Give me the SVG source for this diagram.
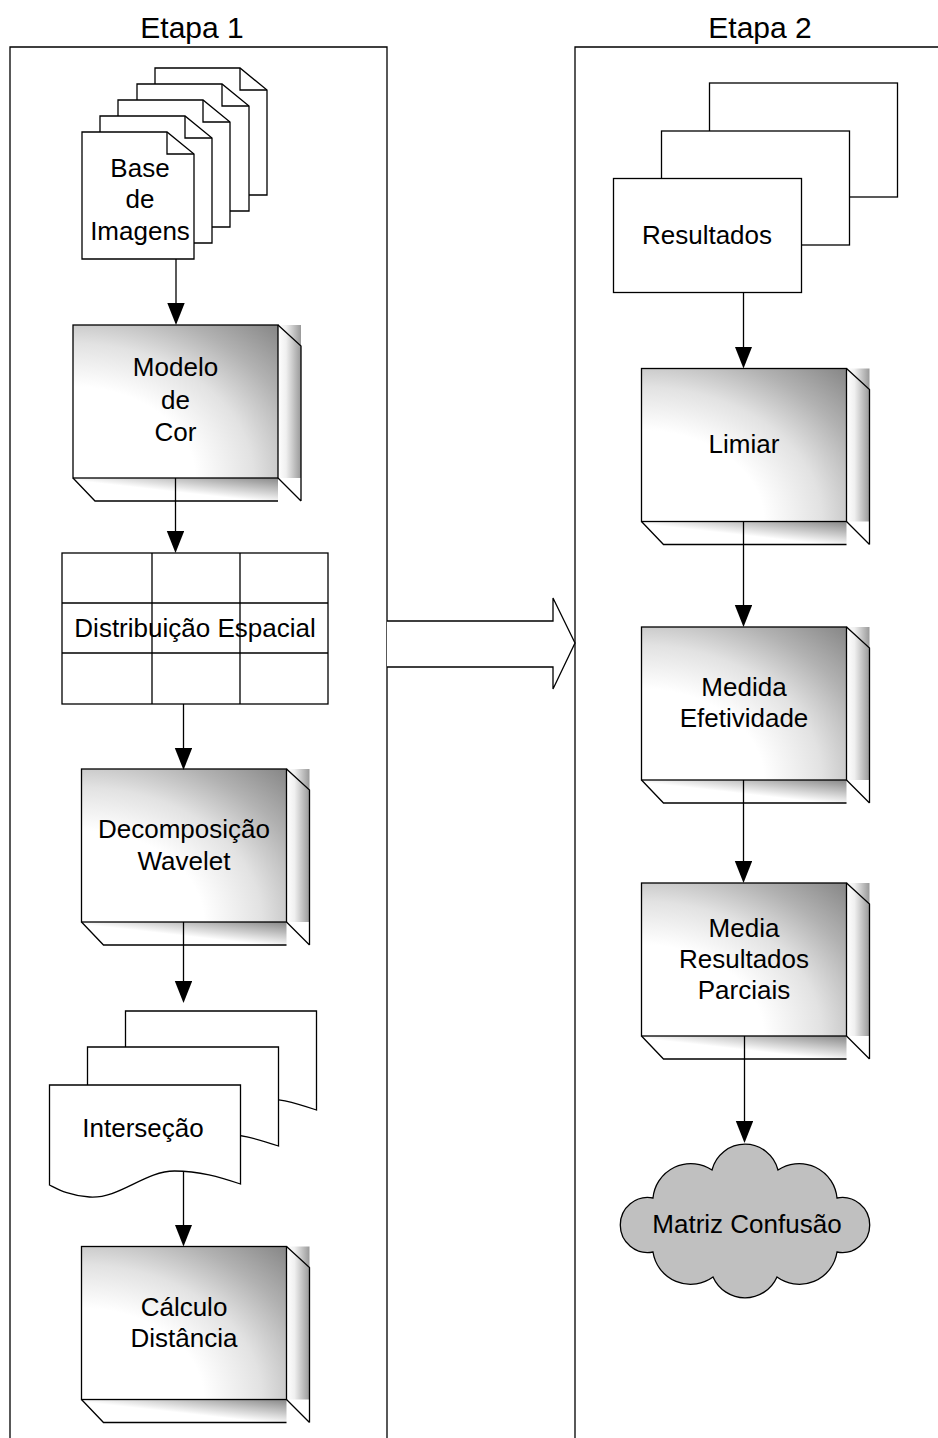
<svg xmlns="http://www.w3.org/2000/svg" width="938" height="1438" viewBox="0 0 938 1438">
<style>
.s{stroke:#000;stroke-width:1.3}
.nf{fill:none}
.t{font-family:"Liberation Sans",Arial,sans-serif;font-size:26px;text-anchor:middle;fill:#000}
.h{font-size:30px}
</style>
<defs>
<radialGradient id="gFront" cx="0" cy="1" r="1.42" fx="0" fy="1">
<stop offset="0" stop-color="#fff"/>
<stop offset="0.42" stop-color="#fff"/>
<stop offset="0.62" stop-color="#e2e2e2"/>
<stop offset="0.8" stop-color="#b2b2b2"/>
<stop offset="1" stop-color="#858585"/>
</radialGradient>
<linearGradient id="gSide" x1="0" y1="0" x2="1" y2="0">
<stop offset="0" stop-color="#fff"/>
<stop offset="0.35" stop-color="#f0f0f0"/>
<stop offset="1" stop-color="#999"/>
</linearGradient>
<linearGradient id="gBottom" x1="0" y1="1" x2="1" y2="0">
<stop offset="0" stop-color="#fff"/>
<stop offset="0.45" stop-color="#fff"/>
<stop offset="1" stop-color="#888"/>
</linearGradient>
<g id="box">
<rect x="205" y="0" width="23" height="153" fill="url(#gSide)"/>
<rect x="0" y="153" width="205" height="23" fill="url(#gBottom)"/>
<rect x="0" y="0" width="205" height="153" fill="url(#gFront)" class="s"/>
<path d="M205,0 L228,21 V176 M205,153 L228,176 M0,153 L22,176 H205" class="s nf"/>
</g>
<g id="pdoc">
<path d="M0,0 H85 L112,22 V127 H0 Z" fill="#fff" class="s"/>
<path d="M85,0 V22 H112" class="s nf"/>
</g>
<path id="wdoc" d="M0,0 H191 V99 C170,92 150,86 125,86 C95,86 70,114 40,112 C20,111 8,104 0,100 Z" fill="#fff" class="s"/>
<rect id="rdoc" width="188" height="114" fill="#fff" class="s"/>
<marker id="ah" markerUnits="userSpaceOnUse" markerWidth="22" markerHeight="18" refX="16" refY="8.7" orient="auto">
<path d="M0,0 L22,8.7 L0,17.4 Z" fill="#000"/>
</marker>
</defs>

<g id="etapa1">
<path d="M10,1438 V47 H387 V1438" class="s nf"/>
<text class="t h" x="192" y="38">Etapa 1</text>
</g>
<g id="etapa2">
<path d="M575,1438 V47 H938" class="s nf"/>
<text class="t h" x="760" y="38">Etapa 2</text>
</g>

<g id="base-imagens">
<use href="#pdoc" x="155" y="68"/>
<use href="#pdoc" x="137" y="84"/>
<use href="#pdoc" x="118" y="100"/>
<use href="#pdoc" x="100" y="116"/>
<use href="#pdoc" x="82" y="132"/>
<text class="t" x="140" y="177">Base</text>
<text class="t" x="140" y="208">de</text>
<text class="t" x="140" y="240">Imagens</text>
</g>

<g id="modelo-cor">
<use href="#box" x="73" y="325"/>
<text class="t" x="175.5" y="376">Modelo</text>
<text class="t" x="175.5" y="409">de</text>
<text class="t" x="175.5" y="441">Cor</text>
</g>

<g id="distribuicao">
<rect x="62" y="553" width="266" height="151" fill="#fff" class="s"/>
<path d="M152,553 V704 M240,553 V704 M62,603 H328 M62,653 H328" class="s nf"/>
<text class="t" x="195" y="637">Distribuição Espacial</text>
</g>

<g id="decomposicao">
<use href="#box" x="81.5" y="769"/>
<text class="t" x="184" y="838">Decomposição</text>
<text class="t" x="184" y="870">Wavelet</text>
</g>

<g id="intersecao">
<use href="#wdoc" x="125.5" y="1011"/>
<use href="#wdoc" x="87.5" y="1047"/>
<use href="#wdoc" x="49.5" y="1085"/>
<text class="t" x="143" y="1137">Interseção</text>
</g>

<g id="calculo">
<use href="#box" x="81.5" y="1246.5"/>
<text class="t" x="184" y="1316">Cálculo</text>
<text class="t" x="184" y="1347">Distância</text>
</g>

<g id="resultados">
<use href="#rdoc" x="709.5" y="83"/>
<use href="#rdoc" x="661.5" y="131"/>
<use href="#rdoc" x="613.5" y="178.5"/>
<text class="t" x="707" y="243.5">Resultados</text>
</g>

<g id="limiar">
<use href="#box" x="641.5" y="368.5"/>
<text class="t" x="744" y="453">Limiar</text>
</g>

<g id="medida">
<use href="#box" x="641.5" y="627"/>
<text class="t" x="744" y="696">Medida</text>
<text class="t" x="744" y="727">Efetividade</text>
</g>

<g id="media">
<use href="#box" x="641.5" y="883"/>
<text class="t" x="744" y="937">Media</text>
<text class="t" x="744" y="968">Resultados</text>
<text class="t" x="744" y="999">Parciais</text>
</g>

<g id="matriz">
<path d="M712,1170 A34,34 0 0 1 778,1170 A38,38 0 0 1 837,1198 A27.5,27.5 0 1 1 837,1252 A38,38 0 0 1 777,1277 A35,35 0 0 1 713,1277 A38,38 0 0 1 653,1252 A27.5,27.5 0 1 1 653,1198 A38,38 0 0 1 712,1170 Z" fill="#c0c0c0" class="s"/>
<text class="t" x="747" y="1233">Matriz Confusão</text>
</g>

<g id="connectors" class="s nf">
<path d="M176,259 V319" marker-end="url(#ah)"/>
<path d="M175.5,478 V547" marker-end="url(#ah)"/>
<path d="M183.5,704 V764" marker-end="url(#ah)"/>
<path d="M183.5,922 V997" marker-end="url(#ah)"/>
<path d="M183.5,1172 V1240.5" marker-end="url(#ah)"/>
<path d="M743.5,293 V362.5" marker-end="url(#ah)"/>
<path d="M743.5,521 V621" marker-end="url(#ah)"/>
<path d="M743.5,780 V877" marker-end="url(#ah)"/>
<path d="M744.5,1036 V1137" marker-end="url(#ah)"/>
<path d="M387,621 H553 V598 L575,643 L553,689 V667 H387" fill="#fff"/>
</g>
</svg>
